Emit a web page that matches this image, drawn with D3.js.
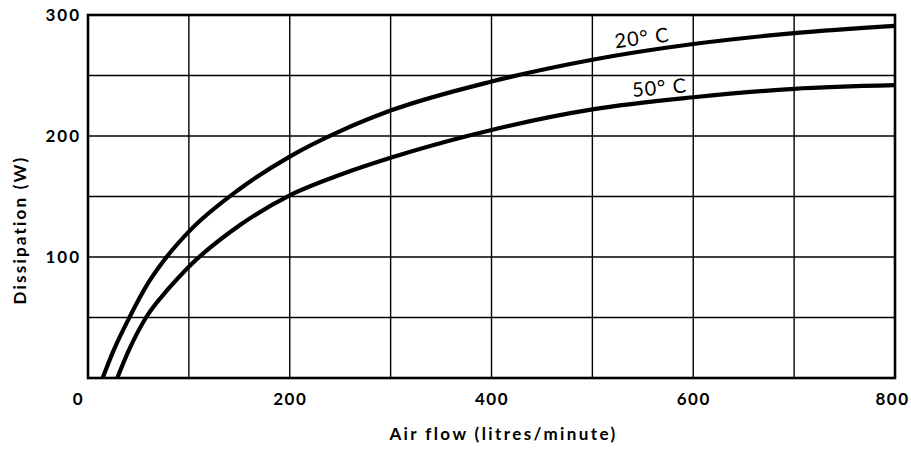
<!DOCTYPE html>
<html>
<head>
<meta charset="utf-8">
<script src="https://cdn.jsdelivr.net/npm/d3@7"></script>
<style>
  body { margin: 0; background: #fff; }
  svg text { font-family: Lato, "Open Sans", sans-serif; font-weight: 700; fill: #000; }
</style>
</head>
<body>
<svg id="chart"></svg>
<script>
// Curve readings (air flow in litres/minute, dissipation in W)
const flow20 = [14.5, 25, 41, 60, 76, 100, 150, 200, 250, 300, 400, 500, 600, 700, 800];
const diss20 = [0, 22, 50, 79, 98, 121, 156, 183, 204, 221, 245, 263, 276, 285, 291];
const flow50 = [29, 40, 57.5, 80, 100, 150, 200, 250, 300, 376, 400, 500, 600, 700, 800];
const diss50 = [0, 22, 50, 74, 92, 126, 151, 168, 182, 200, 205, 222, 232, 239, 242];
const curveNames = ["20° C", "50° C"];
const xTicks = [0, 200, 400, 600, 800];
const yTicks = [100, 200, 300];
const xGrid = [100, 200, 300, 400, 500, 600, 700];
const yGrid = [50, 100, 150, 200, 250];

const width = 911;
const height = 450;
const margin = { left: 88, right: 16, top: 15, bottom: 72 };

const svg = d3.select("#chart").attr("width", width).attr("height", height);

const x = d3.scaleLinear().domain([0, 800]).range([margin.left, width - margin.right]);
const y = d3.scaleLinear().domain([0, 300]).range([height - margin.bottom, margin.top]);

// grid lines
svg.append("g").selectAll("line").data(xGrid).join("line")
    .attr("x1", d => x(d)).attr("x2", d => x(d))
    .attr("y1", y(0)).attr("y2", y(300))
    .attr("stroke", "#000").attr("stroke-width", 1.4);

svg.append("g").selectAll("line").data(yGrid).join("line")
    .attr("x1", x(0)).attr("x2", x(800))
    .attr("y1", d => y(d)).attr("y2", d => y(d))
    .attr("stroke", "#000").attr("stroke-width", 1.4);

// frame
svg.append("rect")
    .attr("x", x(0)).attr("y", y(300))
    .attr("width", x(800) - x(0)).attr("height", y(0) - y(300))
    .attr("fill", "none").attr("stroke", "#000").attr("stroke-width", 2.6);

// axes (labels only, domain and ticks hidden)
const xAxis = svg.append("g")
    .attr("transform", `translate(0,${y(0)})`)
    .call(d3.axisBottom(x).tickValues(xTicks).tickSize(0).tickPadding(15));
xAxis.select(".domain").remove();
xAxis.selectAll("text").style("font-size", "17px").style("letter-spacing", "1.5px");
xAxis.selectAll("text").filter(d => d === 0).attr("dx", -10);
xAxis.selectAll("text").filter(d => d === 800).attr("dx", -3);

const yAxis = svg.append("g")
    .attr("transform", `translate(${x(0)},0)`)
    .call(d3.axisLeft(y).tickValues(yTicks).tickSize(0).tickPadding(7));
yAxis.select(".domain").remove();
yAxis.selectAll("text").style("font-size", "17px").style("letter-spacing", "2px");

// curves
const line = d3.line()
    .x(d => x(d[0]))
    .y(d => y(d[1]))
    .curve(d3.curveMonotoneX);

const series = [
    d3.zip(flow20, diss20),
    d3.zip(flow50, diss50)
];

svg.append("g").selectAll("path").data(series).join("path")
    .attr("d", line)
    .attr("fill", "none")
    .attr("stroke", "#000")
    .attr("stroke-width", 4.2);

// curve labels
const labelPos = [
    { at: 523, off: 8, rot: -7 },
    { at: 540, off: 7.5, rot: -5 }
];
svg.append("g").selectAll("text").data(curveNames).join("text")
    .attr("transform", (d, i) => {
        const s = i === 0 ? [flow20, diss20] : [flow50, diss50];
        const v = d3.scaleLinear().domain(s[0]).range(s[1])(labelPos[i].at);
        return `translate(${x(labelPos[i].at)},${y(v) - labelPos[i].off}) rotate(${labelPos[i].rot})`;
    })
    .style("font-size", "20px")
    .style("font-weight", 400)
    .style("letter-spacing", "1px")
    .text(d => d);

// axis titles
svg.append("text")
    .attr("x", (x(0) + x(800)) / 2 + 12)
    .attr("y", 440)
    .attr("text-anchor", "middle")
    .style("font-size", "17px")
    .style("letter-spacing", "2.4px")
    .text("Air flow (litres/minute)");

svg.append("text")
    .attr("transform", "translate(26,230) rotate(-90)")
    .attr("text-anchor", "middle")
    .style("font-size", "17px")
    .style("letter-spacing", "2.2px")
    .text("Dissipation (W)");
</script>
</body>
</html>
